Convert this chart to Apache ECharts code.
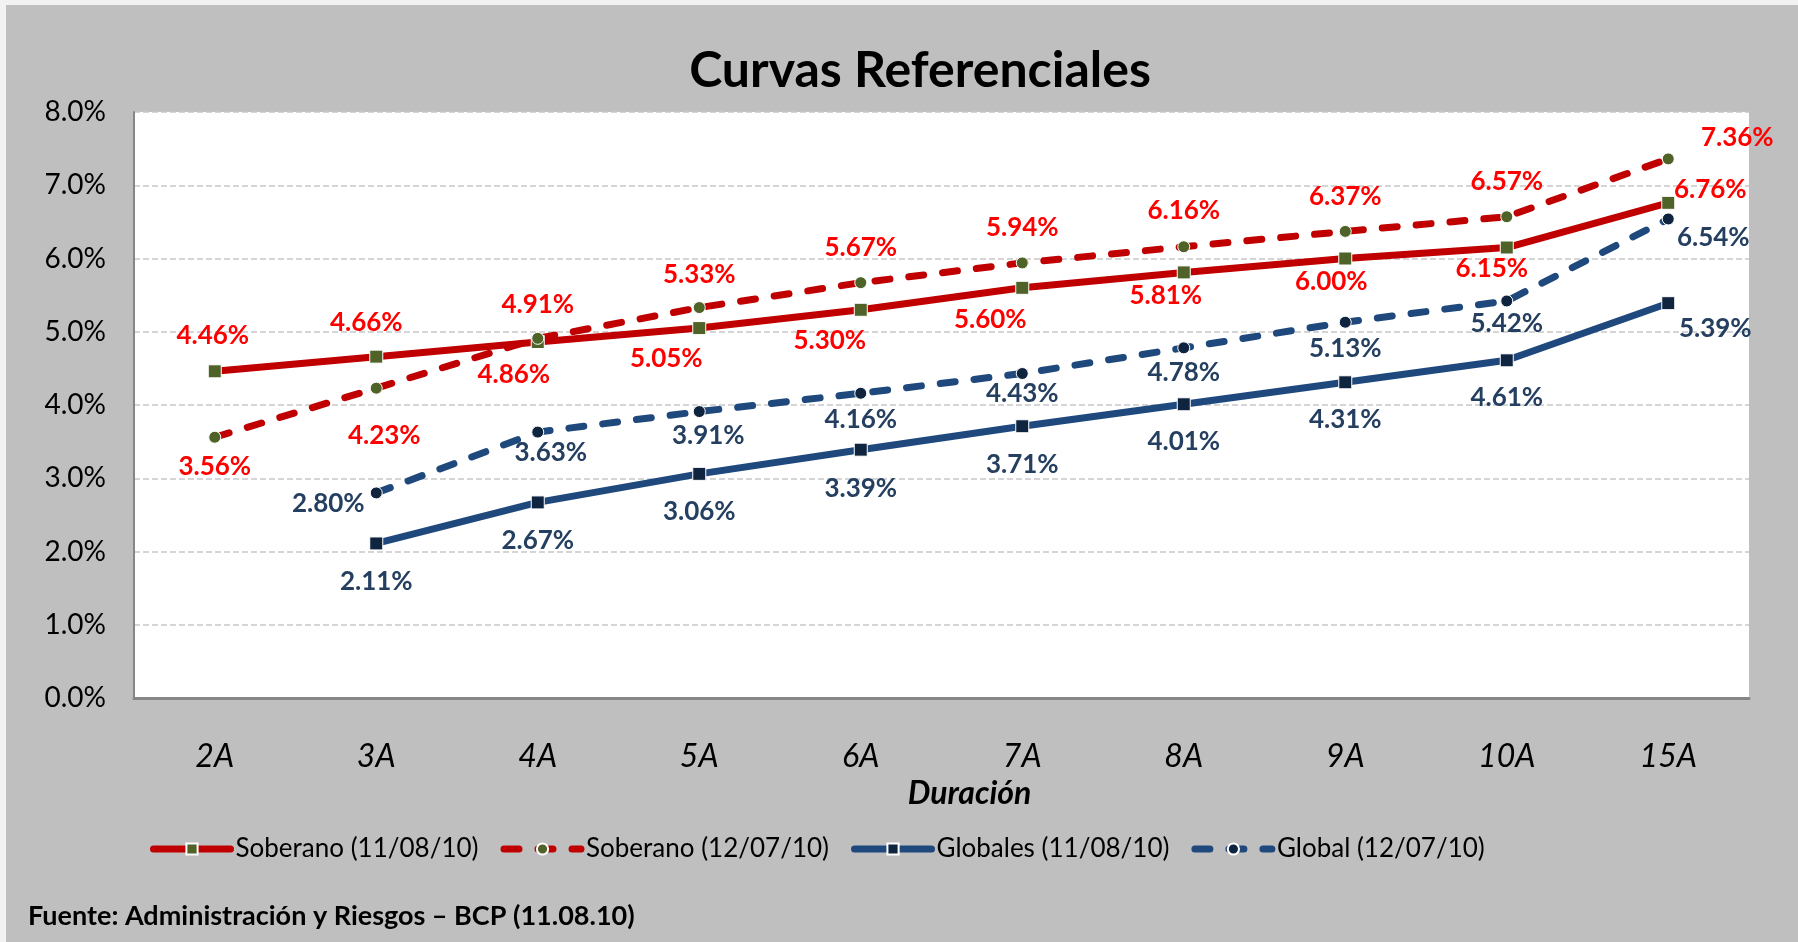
<!DOCTYPE html>
<html>
<head>
<meta charset="utf-8">
<title>Curvas Referenciales</title>
<script src="https://cdn.jsdelivr.net/npm/echarts@6/dist/echarts.min.js"></script>
<style>
html, body { margin: 0; padding: 0; background: #f2f2f2; }
#chart { width: 1798px; height: 942px; }
</style>
</head>
<body>
<div id="chart"></div>
<script>
var plazos = ['2A', '3A', '4A', '5A', '6A', '7A', '8A', '9A', '10A', '15A'];
var soberano1108 = [4.46, 4.66, 4.86, 5.05, 5.30, 5.60, 5.81, 6.00, 6.15, 6.76];
var soberano1207 = [3.56, 4.23, 4.91, 5.33, 5.67, 5.94, 6.16, 6.37, 6.57, 7.36];
var globales1108 = [null, 2.11, 2.67, 3.06, 3.39, 3.71, 4.01, 4.31, 4.61, 5.39];
var global1207 = [null, 2.80, 3.63, 3.91, 4.16, 4.43, 4.78, 5.13, 5.42, 6.54];

// where each data label sits relative to its point (px)
var offSob1108 = [[-2,-36],[-10,-34],[-24,33],[-33,31],[-31,31],[-32,32],[-18,23],[-14,23],[-15,21],[42,-13]];
var offSob1207 = [[0,29],[8,47],[0,-34],[0,-33],[0,-35],[0,-35],[0,-36],[0,-35],[0,-35],[69,-21]];
var offGlo1108 = [null,[0,38],[0,38],[0,38],[0,39],[0,38],[0,37],[0,37],[0,37],[47,25]];
var offGlo1207 = [null,[-48,11],[13,21],[9,24],[0,26],[0,20],[0,25],[0,26],[0,23],[45,19]];

var FONT = 'Lato';

function build(values, offsets) {
    return values.map(function (v, i) {
        if (v === null) return '-';
        return { value: v, label: { offset: offsets[i] } };
    });
}

function serie(name, values, offsets, lineColor, dotColor, labelColor, dashed) {
    return {
        name: name,
        type: 'line',
        data: build(values, offsets),
        symbol: dashed ? 'circle' : 'rect',
        symbolSize: dashed ? 12 : 13,
        lineStyle: {
            color: lineColor,
            width: 7,
            type: dashed ? [15, 19] : 'solid',
            cap: dashed ? 'round' : 'butt'
        },
        itemStyle: { color: dotColor, borderColor: '#fff', borderWidth: 1 },
        label: {
            show: true,
            position: 'inside',
            color: labelColor,
            fontFamily: FONT,
            fontWeight: 'bold',
            fontSize: 26,
            formatter: function (p) { return p.value.toFixed(2) + '%'; }
        },
        emphasis: { disabled: true }
    };
}

var myChart = echarts.init(document.getElementById('chart'));

var option = {
    backgroundColor: '#BFBFBF',
    animation: false,
    title: {
        text: 'Curvas Referenciales',
        left: 920,
        textAlign: 'center',
        top: 46,
        padding: 0,
        textStyle: { fontFamily: FONT, fontWeight: 'bold', fontSize: 50, color: '#000' }
    },
    legend: {
        left: 150,
        top: 836,
        padding: 0,
        itemWidth: 77,
        itemHeight: 14,
        itemGap: 22,
        lineStyle: { width: 7, cap: 'round' },
        textStyle: { fontFamily: FONT, fontSize: 26, color: '#000' }
    },
    grid: {
        left: 134, right: 49, top: 112, bottom: 244,
        show: true, backgroundColor: '#fff', borderWidth: 0
    },
    xAxis: {
        type: 'category',
        data: plazos,
        boundaryGap: true,
        axisLine: { lineStyle: { color: '#868686', width: 3 } },
        axisTick: { alignWithLabel: true, length: 8, lineStyle: { color: '#868686', width: 2 } },
        axisLabel: { fontFamily: FONT, fontStyle: 'italic', fontSize: 32, color: '#000', margin: 43 },
        name: 'Duración',
        nameLocation: 'middle',
        nameGap: 80,
        nameTextStyle: {
            fontFamily: FONT, fontStyle: 'italic', fontWeight: 'bold',
            fontSize: 32, color: '#000', padding: [0, 0, 0, 56]
        }
    },
    yAxis: {
        type: 'value',
        min: 0,
        max: 8,
        interval: 1,
        axisLine: { show: true, lineStyle: { color: '#868686', width: 2 } },
        axisTick: { show: false },
        splitLine: { lineStyle: { color: '#C8C8C8', width: 1.5, type: [6, 3] } },
        axisLabel: {
            fontFamily: FONT, fontSize: 28, color: '#000', margin: 28,
            formatter: function (v) { return v.toFixed(1) + '%'; }
        }
    },
    graphic: [
        { type: 'rect', shape: { x: 0, y: 0, width: 1798, height: 5 }, style: { fill: '#F2F2F2' } },
        { type: 'rect', shape: { x: 0, y: 0, width: 6, height: 942 }, style: { fill: '#F2F2F2' } },
        {
            type: 'text', left: 28, top: 903,
            style: {
                text: 'Fuente: Administración y Riesgos – BCP (11.08.10)',
                font: 'bold 27px Lato', fill: '#000'
            }
        }
    ],
    series: [
        serie('Soberano (11/08/10)', soberano1108, offSob1108, '#C00000', '#4F6228', '#FF0000', false),
        serie('Soberano (12/07/10)', soberano1207, offSob1207, '#C00000', '#4F6228', '#FF0000', true),
        serie('Globales (11/08/10)', globales1108, offGlo1108, '#1F497D', '#0F243E', '#243F60', false),
        serie('Global (12/07/10)', global1207, offGlo1207, '#1F497D', '#0F243E', '#243F60', true)
    ]
};

myChart.setOption(option);
</script>
</body>
</html>
